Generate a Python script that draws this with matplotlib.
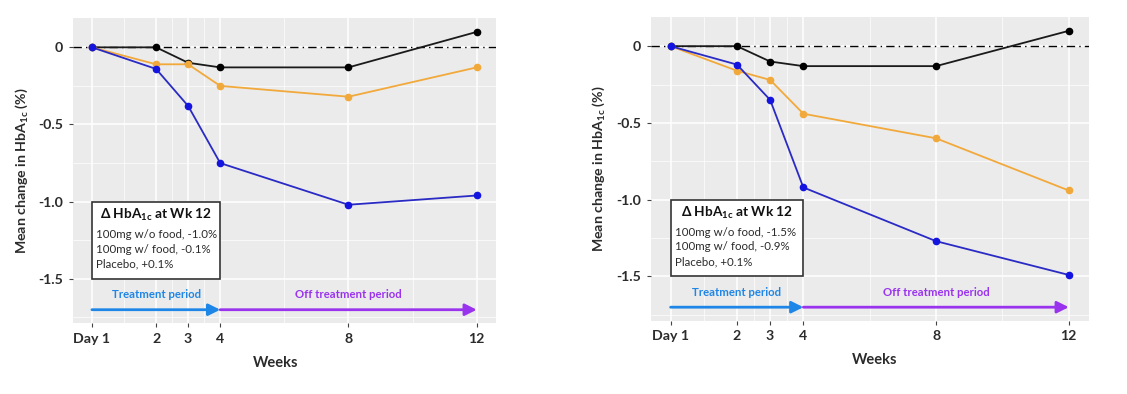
"""HbA1c 평균 변화 — 두 패널 (좌: 1차 연구, 우: 2차 연구)."""
import matplotlib
matplotlib.use("Agg")
import matplotlib.pyplot as plt
from matplotlib.patches import Rectangle

plt.rcParams["font.family"] = ["Lato", "DejaVu Sans"]
plt.rcParams["mathtext.fontset"] = "custom"
plt.rcParams["mathtext.rm"] = "Lato"
plt.rcParams["mathtext.bf"] = "Lato:bold"

# ── 데이터 ────────────────────────────────────────────────────────────────
WEEKS = [0, 2, 3, 4, 8, 12]
WEEK_LABELS = ["Day 1", "2", "3", "4", "8", "12"]

LEFT_NOFOOD = [0, -0.14, -0.38, -0.75, -1.02, -0.96]
LEFT_FOOD = [0, -0.11, -0.11, -0.25, -0.32, -0.13]
LEFT_PLACEBO = [0, 0, -0.10, -0.13, -0.13, 0.10]
LEFT_NOTES = ["100mg w/o food, -1.0%", "100mg w/ food, -0.1%", "Placebo, +0.1%"]

RIGHT_NOFOOD = [0, -0.12, -0.35, -0.92, -1.27, -1.49]
RIGHT_FOOD = [0, -0.16, -0.22, -0.44, -0.60, -0.94]
RIGHT_PLACEBO = [0, 0, -0.10, -0.13, -0.13, 0.10]
RIGHT_NOTES = ["100mg w/o food, -1.5%", "100mg w/ food, -0.9%", "Placebo, +0.1%"]

Y_TICKS = [0, -0.5, -1.0, -1.5]
Y_TICK_LABELS = ["0", "-0.5", "-1.0", "-1.5"]

# ── 색 ────────────────────────────────────────────────────────────────────
BG = "#ebebeb"
BLUE, ORANGE, BLACK = "#2a2ac4", "#f2a93b", "#1a1a1a"
TREAT, OFF = "#1e86e6", "#9a33ee"
INK = "#2b2b2b"


def panel(ax, nofood, food, placebo, notes, xlab_x):
    ax.set_facecolor(BG)
    for s in ax.spines.values():
        s.set_visible(False)
    ax.set_xlim(-0.6, 12.6)
    ax.set_ylim(-1.788, 0.188)

    # 격자: 주(흰 굵게) + 부(흰 가늘게)
    ax.set_xticks(WEEKS)
    ax.set_xticklabels(WEEK_LABELS)
    ax.set_xticks([1, 2.5, 3.5, 6, 10], minor=True)
    ax.set_yticks(Y_TICKS)
    ax.set_yticklabels(Y_TICK_LABELS)
    ax.set_yticks([-0.25, -0.75, -1.25, -1.75], minor=True)
    ax.grid(which="major", color="white", lw=1.1)
    ax.grid(which="minor", color="white", lw=0.5)
    ax.set_axisbelow(True)
    ax.tick_params(which="major", length=3, width=0.8, color="#444444",
                   labelsize=10.2, labelcolor=INK, pad=4)
    ax.tick_params(which="minor", length=0)
    for t in ax.get_xticklabels() + ax.get_yticklabels():
        t.set_fontweight("bold")

    ax.axhline(0, color="black", lw=1.0, ls=(0, (6, 3, 1, 3)), zorder=2)

    for ys, c, mc in ((placebo, BLACK, "black"), (food, ORANGE, ORANGE),
                      (nofood, BLUE, "#1414e0")):
        ax.plot(WEEKS, ys, color=c, lw=1.3, marker="o", ms=4.5,
                mfc=mc, mec=mc, zorder=3)

    # 12주 변화 상자 (Day 1 ~ 4주, -1.0 ~ -1.5)
    ax.add_patch(Rectangle((0, -1.5), 4, 0.5, facecolor="white",
                           edgecolor="#333333", lw=1.2, zorder=4))
    ax.text(2, -1.086, r"Δ HbA$_{\mathbf{1c}}$ at Wk 12",
            fontsize=9.8, fontweight="bold", color="#111111",
            ha="center", va="center", zorder=5)
    for i, s in enumerate(notes):
        ax.text(0.12, -1.211 - i * 0.096, s, fontsize=8.3, color=INK,
                ha="left", va="center", zorder=5)

    # 기간 화살표
    head = "-|>,head_length=0.7,head_width=0.35"
    ax.annotate("", xy=(4, -1.70), xytext=(0, -1.70),
                arrowprops=dict(arrowstyle=head, color=TREAT, lw=2.0,
                                shrinkA=0, shrinkB=0))
    ax.annotate("", xy=(12, -1.70), xytext=(4, -1.70),
                arrowprops=dict(arrowstyle=head, color=OFF, lw=2.0,
                                shrinkA=0, shrinkB=0))
    ax.text(2, -1.603, "Treatment period", fontsize=8.2, fontweight="bold",
            color=TREAT, ha="center", va="center")
    ax.text(8, -1.603, "Off treatment period", fontsize=8.2, fontweight="bold",
            color=OFF, ha="center", va="center")

    ax.set_xlabel("Weeks", fontsize=10.5, fontweight="bold", color=INK)
    ax.xaxis.label.set_va("center")
    ax.xaxis.set_label_coords(xlab_x, -0.13)
    ax.set_ylabel(r"Mean change in HbA$_{\mathbf{1c}}$ (%)", fontsize=10.2,
                  fontweight="bold", color=INK)
    ax.yaxis.set_label_coords(-0.10, 0.5)


fig = plt.figure(figsize=(11.27, 3.94), dpi=100)
ax1 = fig.add_axes([72.7 / 1127, 1 - 323.3 / 394, 423.3 / 1127, 305 / 394])
ax2 = fig.add_axes([650.7 / 1127, 1 - 320.7 / 394, 438 / 1127, 303.4 / 394])

panel(ax1, LEFT_NOFOOD, LEFT_FOOD, LEFT_PLACEBO, LEFT_NOTES, 0.479)
panel(ax2, RIGHT_NOFOOD, RIGHT_FOOD, RIGHT_PLACEBO, RIGHT_NOTES, 0.511)

fig.savefig("out.png", dpi=100, facecolor="white")
